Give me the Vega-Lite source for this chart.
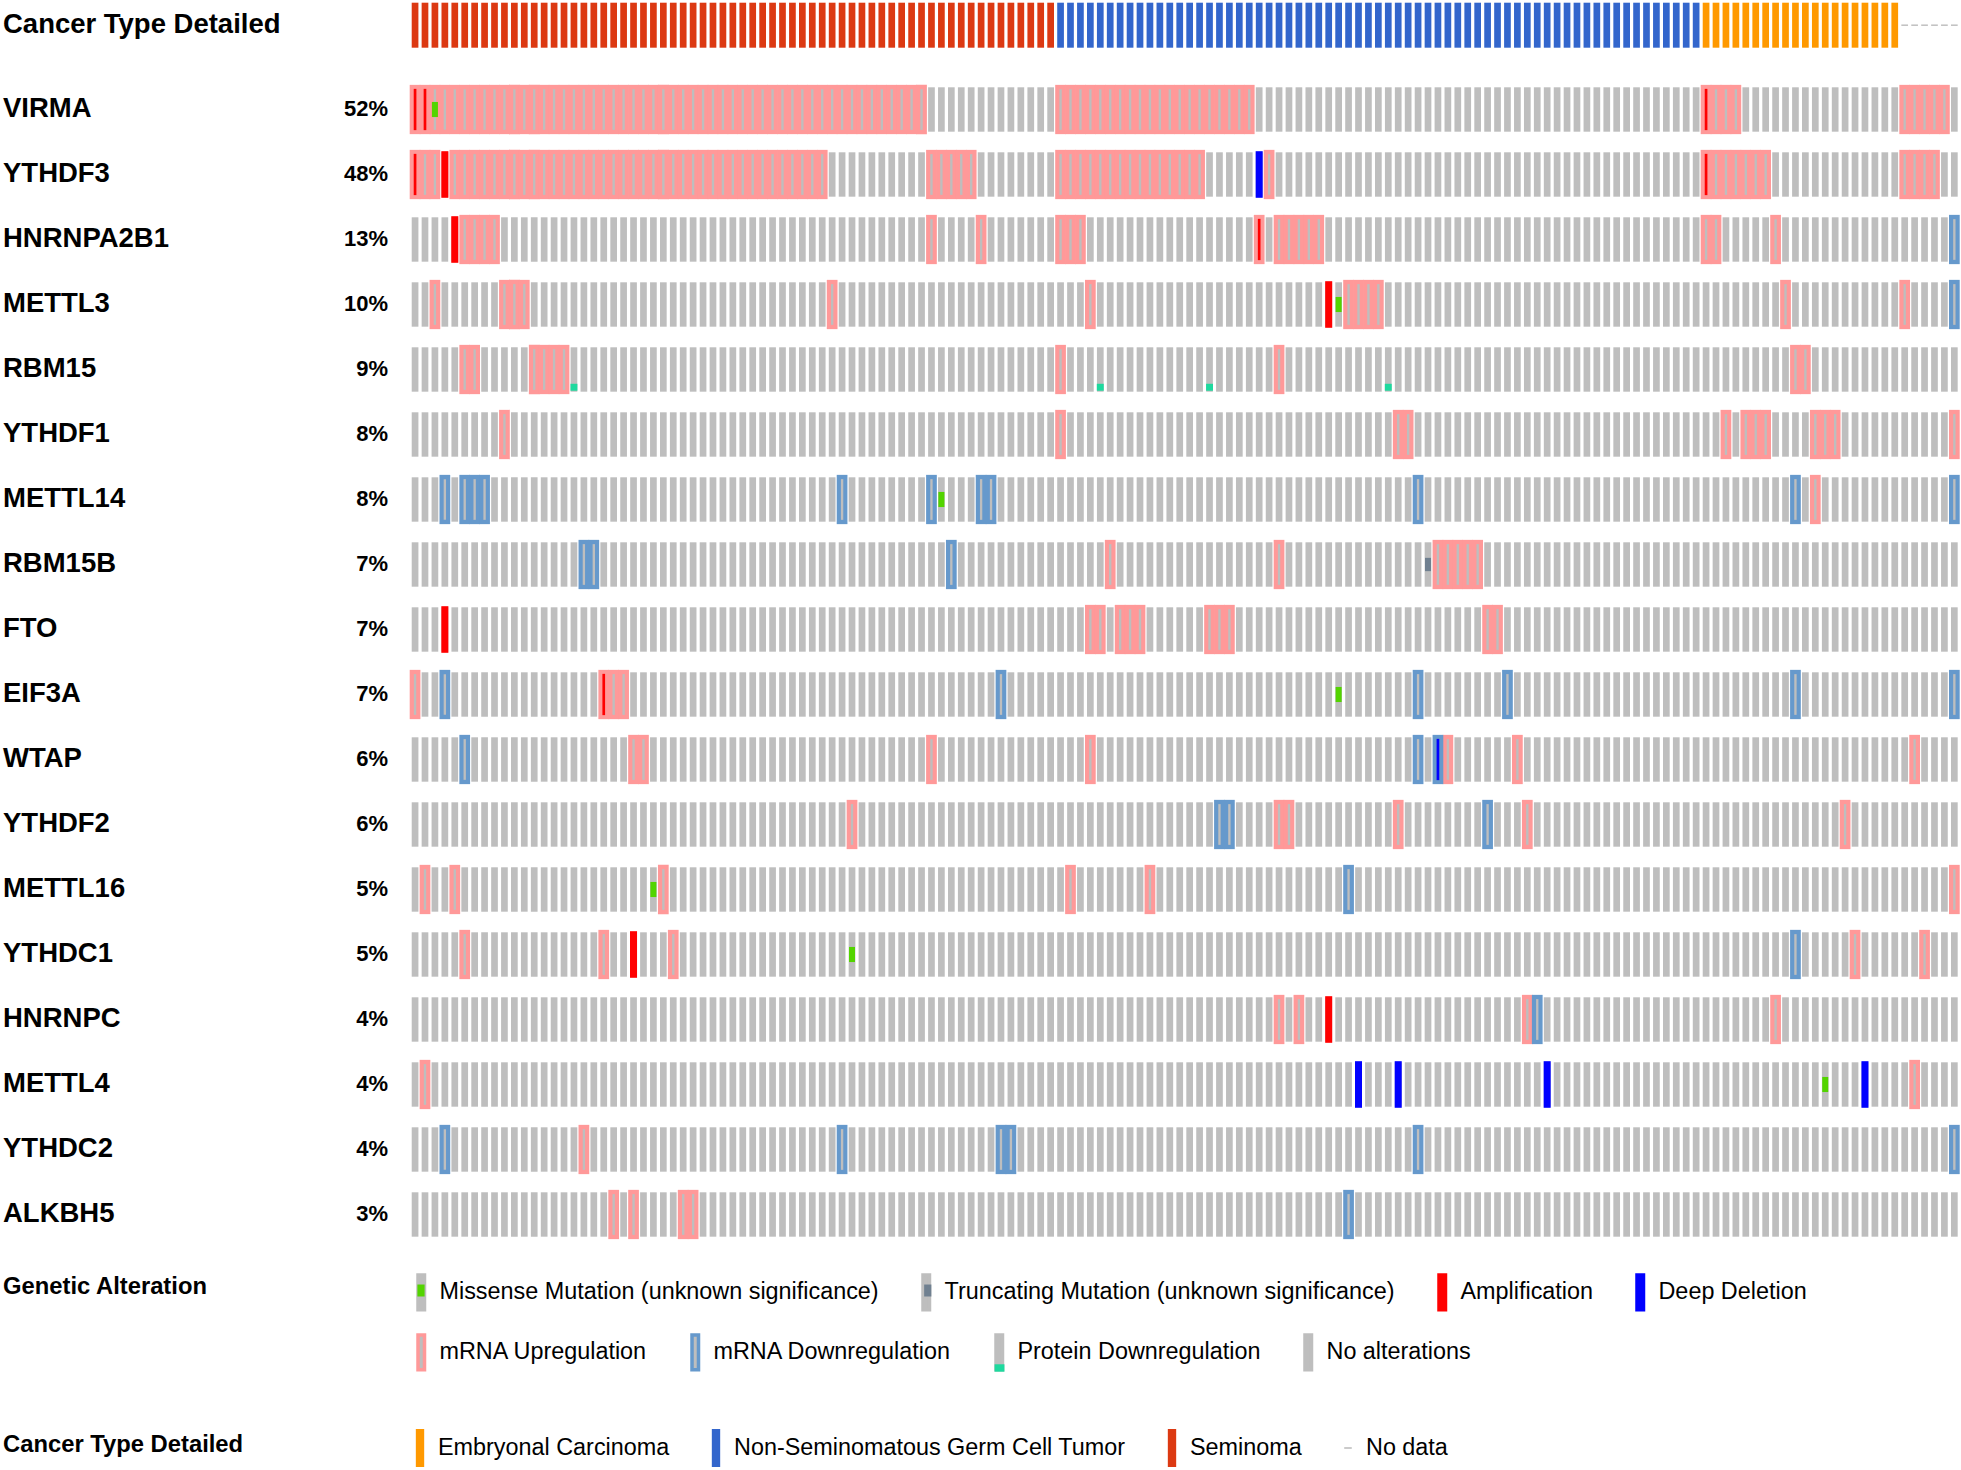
{
 "$schema": "https://vega.github.io/schema/vega-lite/v6.json",
 "background": "white",
 "padding": {"left": 3, "top": 2.7, "right": 0, "bottom": 0},
 "autosize": {"type": "pad"},
 "config": {"view": {"stroke": null}, "font": "Liberation Sans"},
 "bounds": "flush",
 "columns": 2,
 "spacing": {"row": 39.6, "column": 23.7},
 "resolve": {"scale": {"fill": "independent", "stroke": "independent", "shape": "independent"}},
 "datasets": {
  "genes": [
   {"gene": "VIRMA", "pct": "52%"}, {"gene": "YTHDF3", "pct": "48%"}, {"gene": "HNRNPA2B1", "pct": "13%"},
   {"gene": "METTL3", "pct": "10%"}, {"gene": "RBM15", "pct": "9%"}, {"gene": "YTHDF1", "pct": "8%"},
   {"gene": "METTL14", "pct": "8%"}, {"gene": "RBM15B", "pct": "7%"}, {"gene": "FTO", "pct": "7%"},
   {"gene": "EIF3A", "pct": "7%"}, {"gene": "WTAP", "pct": "6%"}, {"gene": "YTHDF2", "pct": "6%"},
   {"gene": "METTL16", "pct": "5%"}, {"gene": "YTHDC1", "pct": "5%"}, {"gene": "HNRNPC", "pct": "4%"},
   {"gene": "METTL4", "pct": "4%"}, {"gene": "YTHDC2", "pct": "4%"}, {"gene": "ALKBH5", "pct": "3%"}
  ],
  "altLegend": [
   {"alt": "Missense Mutation (unknown significance)"}, {"alt": "Truncating Mutation (unknown significance)"},
   {"alt": "Amplification"}, {"alt": "Deep Deletion"}, {"alt": "mRNA Upregulation"},
   {"alt": "mRNA Downregulation"}, {"alt": "Protein Downregulation"}, {"alt": "No alterations"}
  ],
  "ctLegend": [
   {"ct": "Embryonal Carcinoma"}, {"ct": "Non-Seminomatous Germ Cell Tumor"}, {"ct": "Seminoma"}, {"ct": "No data"}
  ],
  "samples": [
   {"s":0,"t":"S","VIRMA":"UA","YTHDF3":"UA","EIF3A":"U"},
   {"s":1,"t":"S","VIRMA":"UA","YTHDF3":"U","METTL16":"U","METTL4":"U"},
   {"s":2,"t":"S","VIRMA":"UM","YTHDF3":"U","METTL3":"U"},
   {"s":3,"t":"S","VIRMA":"U","YTHDF3":"A","METTL14":"D","FTO":"A","EIF3A":"D","YTHDC2":"D"},
   {"s":4,"t":"S","VIRMA":"U","YTHDF3":"U","HNRNPA2B1":"A","METTL16":"U"},
   {"s":5,"t":"S","VIRMA":"U","YTHDF3":"U","HNRNPA2B1":"U","RBM15":"U","METTL14":"D","WTAP":"D","YTHDC1":"U"},
   {"s":6,"t":"S","VIRMA":"U","YTHDF3":"U","HNRNPA2B1":"U","RBM15":"U","METTL14":"D"},
   {"s":7,"t":"S","VIRMA":"U","YTHDF3":"U","HNRNPA2B1":"U","METTL14":"D"},
   {"s":8,"t":"S","VIRMA":"U","YTHDF3":"U","HNRNPA2B1":"U"},
   {"s":9,"t":"S","VIRMA":"U","YTHDF3":"U","METTL3":"U","YTHDF1":"U"},
   {"s":10,"t":"S","VIRMA":"U","YTHDF3":"U","METTL3":"U"},
   {"s":11,"t":"S","VIRMA":"U","YTHDF3":"U","METTL3":"U"},
   {"s":12,"t":"S","VIRMA":"U","YTHDF3":"U","RBM15":"U"},
   {"s":13,"t":"S","VIRMA":"U","YTHDF3":"U","RBM15":"U"},
   {"s":14,"t":"S","VIRMA":"U","YTHDF3":"U","RBM15":"U"},
   {"s":15,"t":"S","VIRMA":"U","YTHDF3":"U","RBM15":"U"},
   {"s":16,"t":"S","VIRMA":"U","YTHDF3":"U","RBM15":"P"},
   {"s":17,"t":"S","VIRMA":"U","YTHDF3":"U","RBM15B":"D","YTHDC2":"U"},
   {"s":18,"t":"S","VIRMA":"U","YTHDF3":"U","RBM15B":"D"},
   {"s":19,"t":"S","VIRMA":"U","YTHDF3":"U","EIF3A":"UA","YTHDC1":"U"},
   {"s":20,"t":"S","VIRMA":"U","YTHDF3":"U","EIF3A":"U","ALKBH5":"U"},
   {"s":21,"t":"S","VIRMA":"U","YTHDF3":"U","EIF3A":"U"},
   {"s":22,"t":"S","VIRMA":"U","YTHDF3":"U","WTAP":"U","YTHDC1":"A","ALKBH5":"U"},
   {"s":23,"t":"S","VIRMA":"U","YTHDF3":"U","WTAP":"U"},
   {"s":24,"t":"S","VIRMA":"U","YTHDF3":"U","METTL16":"M"},
   {"s":25,"t":"S","VIRMA":"U","YTHDF3":"U","METTL16":"U"},
   {"s":26,"t":"S","VIRMA":"U","YTHDF3":"U","YTHDC1":"U"},
   {"s":27,"t":"S","VIRMA":"U","YTHDF3":"U","ALKBH5":"U"},
   {"s":28,"t":"S","VIRMA":"U","YTHDF3":"U","ALKBH5":"U"},
   {"s":29,"t":"S","VIRMA":"U","YTHDF3":"U"},
   {"s":30,"t":"S","VIRMA":"U","YTHDF3":"U"},
   {"s":31,"t":"S","VIRMA":"U","YTHDF3":"U"},
   {"s":32,"t":"S","VIRMA":"U","YTHDF3":"U"},
   {"s":33,"t":"S","VIRMA":"U","YTHDF3":"U"},
   {"s":34,"t":"S","VIRMA":"U","YTHDF3":"U"},
   {"s":35,"t":"S","VIRMA":"U","YTHDF3":"U"},
   {"s":36,"t":"S","VIRMA":"U","YTHDF3":"U"},
   {"s":37,"t":"S","VIRMA":"U","YTHDF3":"U"},
   {"s":38,"t":"S","VIRMA":"U","YTHDF3":"U"},
   {"s":39,"t":"S","VIRMA":"U","YTHDF3":"U"},
   {"s":40,"t":"S","VIRMA":"U","YTHDF3":"U"},
   {"s":41,"t":"S","VIRMA":"U","YTHDF3":"U"},
   {"s":42,"t":"S","VIRMA":"U","METTL3":"U"},
   {"s":43,"t":"S","VIRMA":"U","METTL14":"D","YTHDC2":"D"},
   {"s":44,"t":"S","VIRMA":"U","YTHDF2":"U","YTHDC1":"M"},
   {"s":45,"t":"S","VIRMA":"U"},
   {"s":46,"t":"S","VIRMA":"U"},
   {"s":47,"t":"S","VIRMA":"U"},
   {"s":48,"t":"S","VIRMA":"U"},
   {"s":49,"t":"S","VIRMA":"U"},
   {"s":50,"t":"S","VIRMA":"U"},
   {"s":51,"t":"S","VIRMA":"U"},
   {"s":52,"t":"S","YTHDF3":"U","HNRNPA2B1":"U","METTL14":"D","WTAP":"U"},
   {"s":53,"t":"S","YTHDF3":"U","METTL14":"M"},
   {"s":54,"t":"S","YTHDF3":"U","RBM15B":"D"},
   {"s":55,"t":"S","YTHDF3":"U"},
   {"s":56,"t":"S","YTHDF3":"U"},
   {"s":57,"t":"S","HNRNPA2B1":"U","METTL14":"D"},
   {"s":58,"t":"S","METTL14":"D"},
   {"s":59,"t":"S","EIF3A":"D","YTHDC2":"D"},
   {"s":60,"t":"S","YTHDC2":"D"},
   {"s":61,"t":"S"},
   {"s":62,"t":"S"},
   {"s":63,"t":"S"},
   {"s":64,"t":"S"},
   {"s":65,"t":"N","VIRMA":"U","YTHDF3":"U","HNRNPA2B1":"U","RBM15":"U","YTHDF1":"U"},
   {"s":66,"t":"N","VIRMA":"U","YTHDF3":"U","HNRNPA2B1":"U","METTL16":"U"},
   {"s":67,"t":"N","VIRMA":"U","YTHDF3":"U","HNRNPA2B1":"U"},
   {"s":68,"t":"N","VIRMA":"U","YTHDF3":"U","METTL3":"U","FTO":"U","WTAP":"U"},
   {"s":69,"t":"N","VIRMA":"U","YTHDF3":"U","RBM15":"P","FTO":"U"},
   {"s":70,"t":"N","VIRMA":"U","YTHDF3":"U","RBM15B":"U"},
   {"s":71,"t":"N","VIRMA":"U","YTHDF3":"U","FTO":"U"},
   {"s":72,"t":"N","VIRMA":"U","YTHDF3":"U","FTO":"U"},
   {"s":73,"t":"N","VIRMA":"U","YTHDF3":"U","FTO":"U"},
   {"s":74,"t":"N","VIRMA":"U","YTHDF3":"U","METTL16":"U"},
   {"s":75,"t":"N","VIRMA":"U","YTHDF3":"U"},
   {"s":76,"t":"N","VIRMA":"U","YTHDF3":"U"},
   {"s":77,"t":"N","VIRMA":"U","YTHDF3":"U"},
   {"s":78,"t":"N","VIRMA":"U","YTHDF3":"U"},
   {"s":79,"t":"N","VIRMA":"U","YTHDF3":"U"},
   {"s":80,"t":"N","VIRMA":"U","RBM15":"P","FTO":"U"},
   {"s":81,"t":"N","VIRMA":"U","FTO":"U","YTHDF2":"D"},
   {"s":82,"t":"N","VIRMA":"U","FTO":"U","YTHDF2":"D"},
   {"s":83,"t":"N","VIRMA":"U"},
   {"s":84,"t":"N","VIRMA":"U"},
   {"s":85,"t":"N","YTHDF3":"X","HNRNPA2B1":"UA"},
   {"s":86,"t":"N","YTHDF3":"U"},
   {"s":87,"t":"N","HNRNPA2B1":"U","RBM15":"U","RBM15B":"U","YTHDF2":"U","HNRNPC":"U"},
   {"s":88,"t":"N","HNRNPA2B1":"U","YTHDF2":"U"},
   {"s":89,"t":"N","HNRNPA2B1":"U","HNRNPC":"U"},
   {"s":90,"t":"N","HNRNPA2B1":"U"},
   {"s":91,"t":"N","HNRNPA2B1":"U"},
   {"s":92,"t":"N","METTL3":"A","HNRNPC":"A"},
   {"s":93,"t":"N","METTL3":"M","EIF3A":"M"},
   {"s":94,"t":"N","METTL3":"U","METTL16":"D","ALKBH5":"D"},
   {"s":95,"t":"N","METTL3":"U","METTL4":"X"},
   {"s":96,"t":"N","METTL3":"U"},
   {"s":97,"t":"N","METTL3":"U"},
   {"s":98,"t":"N","RBM15":"P"},
   {"s":99,"t":"N","YTHDF1":"U","YTHDF2":"U","METTL4":"X"},
   {"s":100,"t":"N","YTHDF1":"U"},
   {"s":101,"t":"N","METTL14":"D","EIF3A":"D","WTAP":"D","YTHDC2":"D"},
   {"s":102,"t":"N","RBM15B":"T"},
   {"s":103,"t":"N","RBM15B":"U","WTAP":"DX"},
   {"s":104,"t":"N","RBM15B":"U","WTAP":"U"},
   {"s":105,"t":"N","RBM15B":"U"},
   {"s":106,"t":"N","RBM15B":"U"},
   {"s":107,"t":"N","RBM15B":"U"},
   {"s":108,"t":"N","FTO":"U","YTHDF2":"D"},
   {"s":109,"t":"N","FTO":"U"},
   {"s":110,"t":"N","EIF3A":"D"},
   {"s":111,"t":"N","WTAP":"U"},
   {"s":112,"t":"N","YTHDF2":"U","HNRNPC":"U"},
   {"s":113,"t":"N","HNRNPC":"D"},
   {"s":114,"t":"N","METTL4":"X"},
   {"s":115,"t":"N"},
   {"s":116,"t":"N"},
   {"s":117,"t":"N"},
   {"s":118,"t":"N"},
   {"s":119,"t":"N"},
   {"s":120,"t":"N"},
   {"s":121,"t":"N"},
   {"s":122,"t":"N"},
   {"s":123,"t":"N"},
   {"s":124,"t":"N"},
   {"s":125,"t":"N"},
   {"s":126,"t":"N"},
   {"s":127,"t":"N"},
   {"s":128,"t":"N"},
   {"s":129,"t":"N"},
   {"s":130,"t":"E","VIRMA":"UA","YTHDF3":"UA","HNRNPA2B1":"U"},
   {"s":131,"t":"E","VIRMA":"U","YTHDF3":"U","HNRNPA2B1":"U"},
   {"s":132,"t":"E","VIRMA":"U","YTHDF3":"U","YTHDF1":"U"},
   {"s":133,"t":"E","VIRMA":"U","YTHDF3":"U"},
   {"s":134,"t":"E","YTHDF3":"U","YTHDF1":"U"},
   {"s":135,"t":"E","YTHDF3":"U","YTHDF1":"U"},
   {"s":136,"t":"E","YTHDF3":"U","YTHDF1":"U"},
   {"s":137,"t":"E","HNRNPA2B1":"U","HNRNPC":"U"},
   {"s":138,"t":"E","METTL3":"U"},
   {"s":139,"t":"E","RBM15":"U","METTL14":"D","EIF3A":"D","YTHDC1":"D"},
   {"s":140,"t":"E","RBM15":"U"},
   {"s":141,"t":"E","YTHDF1":"U","METTL14":"U"},
   {"s":142,"t":"E","YTHDF1":"U","METTL4":"M"},
   {"s":143,"t":"E","YTHDF1":"U"},
   {"s":144,"t":"E","YTHDF2":"U"},
   {"s":145,"t":"E","YTHDC1":"U"},
   {"s":146,"t":"E","METTL4":"X"},
   {"s":147,"t":"E"},
   {"s":148,"t":"E"},
   {"s":149,"t":"E"},
   {"s":150,"VIRMA":"U","YTHDF3":"U","METTL3":"U"},
   {"s":151,"VIRMA":"U","YTHDF3":"U","WTAP":"U","METTL4":"U"},
   {"s":152,"VIRMA":"U","YTHDF3":"U","YTHDC1":"U"},
   {"s":153,"VIRMA":"U","YTHDF3":"U"},
   {"s":154,"VIRMA":"U"},
   {"s":155,"HNRNPA2B1":"D","METTL3":"D","YTHDF1":"U","METTL14":"D","EIF3A":"D","METTL16":"U","YTHDC2":"D"}
  ]
 },
 "concat": [
  {
   "width": 385, "height": 45,
   "resolve": {"scale": {"fill": "independent", "stroke": "independent", "shape": "independent"}},
   "layer": [
    {
     "data": {"values": [{"label": "Cancer Type Detailed"}]},
     "mark": {"type": "text", "align": "left", "baseline": "middle", "fontSize": 27.5, "fontWeight": "bold", "color": "#000000"},
     "encoding": {
      "x": {"datum": 0, "type": "quantitative", "scale": {"domain": [0, 1]}, "axis": null},
      "text": {"field": "label"}
     }
    },
    {
     "data": {"name": "altLegend"},
     "transform": [{"filter": {"field": "alt", "oneOf": ["Missense Mutation (unknown significance)", "Truncating Mutation (unknown significance)", "Amplification", "Deep Deletion"]}}],
     "mark": {"type": "point", "filled": true, "opacity": 0},
     "encoding": {
      "fill": {"field": "alt", "type": "nominal",
       "scale": {"domain": ["Missense Mutation (unknown significance)", "Truncating Mutation (unknown significance)", "Amplification", "Deep Deletion"], "range": ["#bebebe", "#bebebe", "#ff0000", "#0000ff"]},
       "legend": {"title": "Genetic Alteration", "orient": "none", "legendX": 0, "legendY": 1268.3, "direction": "horizontal", "columns": 4, "columnPadding": 26, "symbolType": "M-0.171,-0.91L0.171,-0.91L0.171,0.91L-0.171,0.91Z", "symbolSize": 1444, "symbolStrokeWidth": 3.5, "symbolOpacity": 1, "labelFont": "Liberation Sans", "labelFontSize": 23.4, "labelColor": "#000000", "labelLimit": 1000, "labelOffset": -2.75, "titleOrient": "left", "titlePadding": 192.25, "titleFont": "Liberation Sans", "titleFontSize": 23.8, "titleFontWeight": "bold", "titleColor": "#000000", "titleLimit": 1000, "titleAnchor": "start", "titleBaseline": "line-top", "titleLineHeight": 31.5, "padding": 0, "zindex": 1}},
      "stroke": {"field": "alt", "type": "nominal",
       "scale": {"domain": ["Missense Mutation (unknown significance)", "Truncating Mutation (unknown significance)", "Amplification", "Deep Deletion"], "range": ["#bebebe", "#bebebe", "#ff0000", "#0000ff"]},
       "legend": {"title": "Genetic Alteration", "orient": "none", "legendX": 0, "legendY": 1268.3, "direction": "horizontal", "columns": 4, "columnPadding": 26, "symbolType": "M-0.171,-0.91L0.171,-0.91L0.171,0.91L-0.171,0.91Z", "symbolSize": 1444, "symbolStrokeWidth": 3.5, "symbolOpacity": 1, "labelFont": "Liberation Sans", "labelFontSize": 23.4, "labelColor": "#000000", "labelLimit": 1000, "labelOffset": -2.75, "titleOrient": "left", "titlePadding": 192.25, "titleFont": "Liberation Sans", "titleFontSize": 23.8, "titleFontWeight": "bold", "titleColor": "#000000", "titleLimit": 1000, "titleAnchor": "start", "titleBaseline": "line-top", "titleLineHeight": 31.5, "padding": 0, "zindex": 1}}
     }
    },
    {
     "data": {"name": "altLegend"},
     "transform": [{"filter": {"field": "alt", "oneOf": ["mRNA Upregulation", "mRNA Downregulation", "Protein Downregulation", "No alterations"]}}],
     "mark": {"type": "point", "filled": true, "opacity": 0},
     "encoding": {
      "fill": {"field": "alt", "type": "nominal",
       "scale": {"domain": ["mRNA Upregulation", "mRNA Downregulation", "Protein Downregulation", "No alterations"], "range": ["#bebebe", "#bebebe", "#bebebe", "#bebebe"]},
       "legend": {"title": null, "orient": "none", "legendX": 397.25, "legendY": 1328.3, "direction": "horizontal", "columns": 4, "columnPadding": 26, "symbolType": "M-0.171,-0.91L0.171,-0.91L0.171,0.91L-0.171,0.91Z", "symbolSize": 1444, "symbolStrokeWidth": 3.5, "symbolOpacity": 1, "labelFont": "Liberation Sans", "labelFontSize": 23.4, "labelColor": "#000000", "labelLimit": 1000, "labelOffset": -2.75, "padding": 0, "zindex": 1}},
      "stroke": {"field": "alt", "type": "nominal",
       "scale": {"domain": ["mRNA Upregulation", "mRNA Downregulation", "Protein Downregulation", "No alterations"], "range": ["#ff9999", "#6699cc", "#bebebe", "#bebebe"]},
       "legend": {"title": null, "orient": "none", "legendX": 397.25, "legendY": 1328.3, "direction": "horizontal", "columns": 4, "columnPadding": 26, "symbolType": "M-0.171,-0.91L0.171,-0.91L0.171,0.91L-0.171,0.91Z", "symbolSize": 1444, "symbolStrokeWidth": 3.5, "symbolOpacity": 1, "labelFont": "Liberation Sans", "labelFontSize": 23.4, "labelColor": "#000000", "labelLimit": 1000, "labelOffset": -2.75, "padding": 0, "zindex": 1}}
     }
    },
    {
     "data": {"name": "altLegend"},
     "transform": [{"filter": {"field": "alt", "equal": "Missense Mutation (unknown significance)"}}],
     "mark": {"type": "point", "filled": true, "opacity": 0},
     "encoding": {
      "fill": {"field": "alt", "type": "nominal", "scale": {"domain": ["Missense Mutation (unknown significance)"], "range": ["#53d400"]},
       "legend": {"title": null, "orient": "none", "legendX": 399, "legendY": 1270.05, "symbolSize": 1444, "symbolStrokeWidth": 0, "symbolOpacity": 1, "labelExpr": "''", "padding": 0, "zindex": 2}},
      "shape": {"field": "alt", "type": "nominal", "scale": {"domain": ["Missense Mutation (unknown significance)"], "range": ["M-0.19,-0.38L0.19,-0.38L0.19,0.25L-0.19,0.25Z"]},
       "legend": {"title": null, "orient": "none", "legendX": 399, "legendY": 1270.05, "symbolSize": 1444, "symbolStrokeWidth": 0, "symbolOpacity": 1, "labelExpr": "''", "padding": 0, "zindex": 2}}
     }
    },
    {
     "data": {"name": "altLegend"},
     "transform": [{"filter": {"field": "alt", "equal": "Truncating Mutation (unknown significance)"}}],
     "mark": {"type": "point", "filled": true, "opacity": 0},
     "encoding": {
      "fill": {"field": "alt", "type": "nominal", "scale": {"domain": ["Truncating Mutation (unknown significance)"], "range": ["#708090"]},
       "legend": {"title": null, "orient": "none", "legendX": 905.75, "legendY": 1270.05, "symbolSize": 1444, "symbolStrokeWidth": 0, "symbolOpacity": 1, "labelExpr": "''", "padding": 0, "zindex": 2}},
      "shape": {"field": "alt", "type": "nominal", "scale": {"domain": ["Truncating Mutation (unknown significance)"], "range": ["M-0.19,-0.38L0.19,-0.38L0.19,0.25L-0.19,0.25Z"]},
       "legend": {"title": null, "orient": "none", "legendX": 905.75, "legendY": 1270.05, "symbolSize": 1444, "symbolStrokeWidth": 0, "symbolOpacity": 1, "labelExpr": "''", "padding": 0, "zindex": 2}}
     }
    },
    {
     "data": {"name": "altLegend"},
     "transform": [{"filter": {"field": "alt", "equal": "Protein Downregulation"}}],
     "mark": {"type": "point", "filled": true, "opacity": 0},
     "encoding": {
      "fill": {"field": "alt", "type": "nominal", "scale": {"domain": ["Protein Downregulation"], "range": ["#1ed99e"]},
       "legend": {"title": null, "orient": "none", "legendX": 977.5, "legendY": 1330.05, "symbolSize": 1444, "symbolStrokeWidth": 0, "symbolOpacity": 1, "labelExpr": "''", "padding": 0, "zindex": 2}},
      "shape": {"field": "alt", "type": "nominal", "scale": {"domain": ["Protein Downregulation"], "range": ["M-0.26,0.66L0.26,0.66L0.26,1.05L-0.26,1.05Z"]},
       "legend": {"title": null, "orient": "none", "legendX": 977.5, "legendY": 1330.05, "symbolSize": 1444, "symbolStrokeWidth": 0, "symbolOpacity": 1, "labelExpr": "''", "padding": 0, "zindex": 2}}
     }
    },
    {
     "data": {"name": "ctLegend"},
     "mark": {"type": "point", "filled": true, "opacity": 0},
     "encoding": {
      "fill": {"field": "ct", "type": "nominal",
       "scale": {"domain": ["Embryonal Carcinoma", "Non-Seminomatous Germ Cell Tumor", "Seminoma", "No data"], "range": ["#ff9900", "#3366cc", "#dc3912", "#bbbbbb"]},
       "legend": {"title": "Cancer Type Detailed", "orient": "none", "legendX": 0, "legendY": 1426.3, "direction": "horizontal", "columns": 4, "columnPadding": 27, "symbolSize": 1444, "symbolStrokeWidth": 0, "symbolOpacity": 1, "labelFont": "Liberation Sans", "labelFontSize": 23.4, "labelColor": "#000000", "labelLimit": 1000, "labelOffset": -1, "titleOrient": "left", "titlePadding": 157, "titleFont": "Liberation Sans", "titleFontSize": 23.8, "titleFontWeight": "bold", "titleColor": "#000000", "titleLimit": 1000, "titleAnchor": "start", "titleBaseline": "line-top", "titleLineHeight": 31.5, "padding": 0}},
      "shape": {"field": "ct", "type": "nominal",
       "scale": {"domain": ["Embryonal Carcinoma", "Non-Seminomatous Germ Cell Tumor", "Seminoma", "No data"], "range": ["M-0.22,-1L0.22,-1L0.22,1L-0.22,1Z", "M-0.22,-1L0.22,-1L0.22,1L-0.22,1Z", "M-0.22,-1L0.22,-1L0.22,1L-0.22,1Z", "M-0.2,-0.035L0.2,-0.035L0.2,0.035L-0.2,0.035Z M0,-1L0,-1 M0,1L0,1"]},
       "legend": {"title": "Cancer Type Detailed", "orient": "none", "legendX": 0, "legendY": 1426.3, "direction": "horizontal", "columns": 4, "columnPadding": 27, "symbolSize": 1444, "symbolStrokeWidth": 0, "symbolOpacity": 1, "labelFont": "Liberation Sans", "labelFontSize": 23.4, "labelColor": "#000000", "labelLimit": 1000, "labelOffset": -1, "titleOrient": "left", "titlePadding": 157, "titleFont": "Liberation Sans", "titleFontSize": 23.8, "titleFontWeight": "bold", "titleColor": "#000000", "titleLimit": 1000, "titleAnchor": "start", "titleBaseline": "line-top", "titleLineHeight": 31.5, "padding": 0}}
     }
    }
   ]
  },
  {
   "width": 1546, "height": 45,
   "data": {"name": "samples"},
   "encoding": {
    "x": {"field": "s", "type": "ordinal", "scale": {"type": "band", "paddingInner": 0.325, "paddingOuter": 0}, "axis": null},
    "y": {"datum": "track", "type": "nominal", "scale": {"type": "band", "domain": ["track"], "paddingInner": 0, "paddingOuter": 0}, "axis": null}
   },
   "layer": [
    {
     "transform": [{"filter": "isValid(datum.t)"}],
     "mark": {"type": "bar"},
     "encoding": {"fill": {"field": "t", "type": "nominal", "scale": {"domain": ["E", "N", "S"], "range": ["#ff9900", "#3366cc", "#dc3912"]}, "legend": null}}
    },
    {
     "transform": [{"filter": "!isValid(datum.t)"}],
     "mark": {"type": "bar", "height": 1.5, "fill": "#c0c0c0"},
     "encoding": {}
    }
   ]
  },
  {
   "width": 385, "height": 1149.4,
   "data": {"name": "genes"},
   "encoding": {
    "y": {"field": "gene", "type": "nominal", "scale": {"type": "band", "domain": ["VIRMA","YTHDF3","HNRNPA2B1","METTL3","RBM15","YTHDF1","METTL14","RBM15B","FTO","EIF3A","WTAP","YTHDF2","METTL16","YTHDC1","HNRNPC","METTL4","YTHDC2","ALKBH5"], "paddingInner": 0.317, "paddingOuter": 0}, "axis": null}
   },
   "layer": [
    {
     "mark": {"type": "text", "align": "left", "baseline": "middle", "fontSize": 27.5, "fontWeight": "bold", "color": "#000000"},
     "encoding": {"x": {"datum": 0, "type": "quantitative", "scale": {"domain": [0, 1]}, "axis": null}, "text": {"field": "gene"}}
    },
    {
     "mark": {"type": "text", "align": "right", "baseline": "middle", "fontSize": 22, "fontWeight": "bold", "color": "#000000"},
     "encoding": {"x": {"datum": 1, "type": "quantitative", "scale": {"domain": [0, 1]}, "axis": null}, "text": {"field": "pct"}}
    }
   ]
  },
  {
   "width": 1546, "height": 1149.4,
   "data": {"name": "samples"},
   "transform": [{"fold": ["VIRMA","YTHDF3","HNRNPA2B1","METTL3","RBM15","YTHDF1","METTL14","RBM15B","FTO","EIF3A","WTAP","YTHDF2","METTL16","YTHDC1","HNRNPC","METTL4","YTHDC2","ALKBH5"], "as": ["gene", "code"]}],
   "encoding": {
    "x": {"field": "s", "type": "ordinal", "scale": {"type": "band", "paddingInner": 0.325, "paddingOuter": 0}, "axis": null},
    "y": {"field": "gene", "type": "nominal", "scale": {"type": "band", "domain": ["VIRMA","YTHDF3","HNRNPA2B1","METTL3","RBM15","YTHDF1","METTL14","RBM15B","FTO","EIF3A","WTAP","YTHDF2","METTL16","YTHDC1","HNRNPC","METTL4","YTHDC2","ALKBH5"], "paddingInner": 0.317, "paddingOuter": 0}, "axis": null}
   },
   "layer": [
    {"mark": {"type": "bar", "fill": "#bebebe"}},
    {"transform": [{"filter": {"field": "code", "oneOf": ["U", "UA", "UM"]}}], "mark": {"type": "bar", "fill": "#ff9999", "width": {"band": 1.6}, "height": {"band": 1.11}}},
    {"transform": [{"filter": {"field": "code", "oneOf": ["D", "DX"]}}], "mark": {"type": "bar", "fill": "#6699cc", "width": {"band": 1.6}, "height": {"band": 1.11}}},
    {"transform": [{"filter": {"field": "code", "oneOf": ["U", "UM", "D"]}}], "mark": {"type": "bar", "fill": "#bebebe", "width": {"band": 0.35}, "height": {"band": 0.917}}},
    {"transform": [{"filter": {"field": "code", "equal": "A"}}], "mark": {"type": "bar", "fill": "#ff0000", "width": {"band": 1.05}, "height": {"band": 1.05}}},
    {"transform": [{"filter": {"field": "code", "equal": "UA"}}], "mark": {"type": "bar", "fill": "#ff0000", "width": {"band": 0.4}, "height": {"band": 0.93}}},
    {"transform": [{"filter": {"field": "code", "equal": "X"}}], "mark": {"type": "bar", "fill": "#0000ff", "width": {"band": 1.05}, "height": {"band": 1.05}}},
    {"transform": [{"filter": {"field": "code", "equal": "DX"}}], "mark": {"type": "bar", "fill": "#0000ff", "width": {"band": 0.4}, "height": {"band": 0.93}}},
    {"transform": [{"filter": {"field": "code", "oneOf": ["M", "UM"]}}], "mark": {"type": "bar", "fill": "#53d400", "width": {"band": 0.9}, "height": {"band": 0.34}}},
    {"transform": [{"filter": {"field": "code", "equal": "T"}}], "mark": {"type": "bar", "fill": "#708090", "width": {"band": 0.9}, "height": {"band": 0.3}}},
    {"transform": [{"filter": {"field": "code", "equal": "P"}}], "mark": {"type": "square", "fill": "#1ed99e", "opacity": 1, "size": 48},
     "encoding": {"y": {"field": "gene", "type": "nominal", "bandPosition": 0.9, "scale": {"type": "band", "domain": ["VIRMA","YTHDF3","HNRNPA2B1","METTL3","RBM15","YTHDF1","METTL14","RBM15B","FTO","EIF3A","WTAP","YTHDF2","METTL16","YTHDC1","HNRNPC","METTL4","YTHDC2","ALKBH5"], "paddingInner": 0.317, "paddingOuter": 0}, "axis": null}}}
   ]
  }
 ]
}
